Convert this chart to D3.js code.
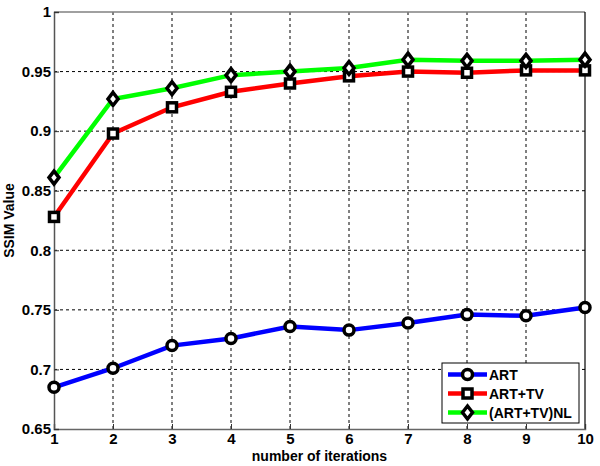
<!DOCTYPE html>
<html>
<head>
<meta charset="utf-8">
<script src="https://cdn.jsdelivr.net/npm/d3@7"></script>
<style>
  html, body { margin: 0; padding: 0; background: #fff; }
  svg { display: block; font-family: "Liberation Sans", Arial, sans-serif; font-weight: bold; }
</style>
</head>
<body>
<svg id="chart" width="600" height="466"></svg>
<script>
// Data.
const iterations = [1, 2, 3, 4, 5, 6, 7, 8, 9, 10];
const art = [0.685, 0.701, 0.720, 0.726, 0.736, 0.733, 0.739, 0.746, 0.745, 0.752];
const artTv = [0.828, 0.898, 0.920, 0.933, 0.940, 0.946, 0.950, 0.949, 0.951, 0.951];
const artTvNl = [0.861, 0.927, 0.936, 0.947, 0.950, 0.953, 0.960, 0.959, 0.959, 0.960];
const yTicks = [0.65, 0.7, 0.75, 0.8, 0.85, 0.9, 0.95, 1];
const seriesNames = ['ART', 'ART+TV', '(ART+TV)NL'];

const series = [
  { name: seriesNames[0], values: art, color: '#0000ff', marker: 'circle' },
  { name: seriesNames[1], values: artTv, color: '#ff0000', marker: 'square' },
  { name: seriesNames[2], values: artTvNl, color: '#00ff00', marker: 'diamond' }
];

const svg = d3.select('#chart');
const margin = { left: 54, right: 15, top: 12, bottom: 37 };
const width = 600, height = 466;

// Scales.
const xScale = d3.scaleLinear().domain([1, 10]).range([margin.left, width - margin.right]);
const yScale = d3.scaleLinear().domain([0.65, 1]).range([height - margin.bottom, margin.top]);

// Grid.
const grid = svg.append('g');
grid.selectAll('.gx')
  .data(iterations.slice(1, -1))
  .enter().append('line')
  .attr('x1', d => xScale(d)).attr('x2', d => xScale(d))
  .attr('y1', yScale(0.65)).attr('y2', yScale(1))
  .attr('stroke', '#000').attr('stroke-width', 1).attr('stroke-dasharray', '3,3');
grid.selectAll('.gy')
  .data(yTicks.slice(1, -1))
  .enter().append('line')
  .attr('x1', xScale(1)).attr('x2', xScale(10))
  .attr('y1', d => yScale(d)).attr('y2', d => yScale(d))
  .attr('stroke', '#000').attr('stroke-width', 1).attr('stroke-dasharray', '3,3');

// Box.
svg.append('line')
  .attr('x1', xScale(1)).attr('x2', xScale(10))
  .attr('y1', yScale(1)).attr('y2', yScale(1))
  .attr('stroke', '#808080').attr('stroke-width', 1.5);
svg.append('line')
  .attr('x1', xScale(10)).attr('x2', xScale(10))
  .attr('y1', yScale(1)).attr('y2', yScale(0.65))
  .attr('stroke', '#000').attr('stroke-width', 1.2);

// X-Axis.
const xAxis = svg.append('g')
  .attr('transform', `translate(0,${yScale(0.65)})`)
  .call(d3.axisBottom(xScale).tickValues(iterations).tickSize(-5).tickPadding(4).tickFormat(d3.format('d')));
xAxis.select('.domain').attr('stroke', '#666').attr('stroke-width', 1.5);
xAxis.selectAll('.tick line').attr('stroke', '#333');
xAxis.selectAll('text').attr('font-size', 15).attr('font-weight', 'bold').attr('fill', '#000')
  .attr('font-family', '"Liberation Sans", Arial, sans-serif');

// Y-Axis.
const yAxis = svg.append('g')
  .attr('transform', `translate(${xScale(1)},0)`)
  .call(d3.axisLeft(yScale).tickValues(yTicks).tickSize(-5).tickPadding(3).tickFormat(d => d3.format('')(+d.toFixed(2))));
yAxis.select('.domain').attr('stroke', '#555').attr('stroke-width', 1.5);
yAxis.selectAll('.tick line').attr('stroke', '#333');
yAxis.selectAll('text').attr('font-size', 15).attr('font-weight', 'bold').attr('fill', '#000')
  .attr('font-family', '"Liberation Sans", Arial, sans-serif');

// Axis labels.
svg.append('text')
  .attr('x', (xScale(1) + xScale(10)) / 2).attr('y', 461)
  .attr('text-anchor', 'middle').attr('font-size', 14).attr('fill', '#000')
  .text('number of iterations');
svg.append('text')
  .attr('transform', `translate(14,${(yScale(0.65) + yScale(1)) / 2}) rotate(-90)`)
  .attr('text-anchor', 'middle').attr('font-size', 14).attr('fill', '#000')
  .text('SSIM Value');

// Marker drawing.
const drawMarker = (g, type, x, y) => {
  if (type === 'circle') {
    g.append('circle').attr('cx', x).attr('cy', y).attr('r', 5)
      .attr('fill', '#fff').attr('stroke', '#000').attr('stroke-width', 3.5);
  } else if (type === 'square') {
    g.append('rect').attr('x', x - 4.5).attr('y', y - 4.5).attr('width', 9).attr('height', 9)
      .attr('fill', '#fff').attr('stroke', '#000').attr('stroke-width', 3.5);
  } else {
    g.append('path').attr('d', `M${x},${y - 6.5}L${x + 5},${y}L${x},${y + 6.5}L${x - 5},${y}Z`)
      .attr('fill', '#fff').attr('stroke', '#000').attr('stroke-width', 3.5);
  }
};

// Lines.
const line = d3.line().x((d, i) => xScale(iterations[i])).y(d => yScale(d));
series.forEach(s => {
  svg.append('path')
    .datum(s.values)
    .attr('fill', 'none')
    .attr('stroke', s.color)
    .attr('stroke-width', 4.5)
    .attr('d', line);
});
series.forEach(s => {
  const g = svg.append('g');
  s.values.forEach((v, i) => drawMarker(g, s.marker, xScale(iterations[i]), yScale(v)));
});

// Legend.
const legend = svg.append('g').attr('transform', 'translate(442,363)');
legend.append('rect').attr('width', 137).attr('height', 60)
  .attr('fill', '#fff').attr('stroke', '#000').attr('stroke-width', 1);
series.forEach((s, i) => {
  const y = 11.5 + i * 19;
  legend.append('line').attr('x1', 6).attr('x2', 45).attr('y1', y).attr('y2', y)
    .attr('stroke', s.color).attr('stroke-width', 4.5);
  drawMarker(legend, s.marker, 25.5, y);
  legend.append('text').attr('x', 47).attr('y', y + 5).attr('font-size', 14).attr('fill', '#000')
    .text(s.name);
});
</script>
</body>
</html>
